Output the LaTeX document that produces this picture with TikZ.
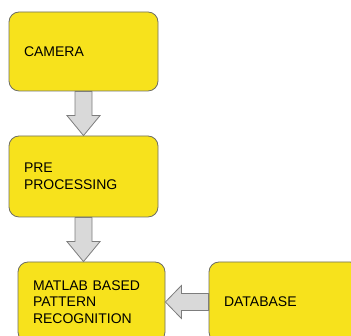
\documentclass[tikz,border=0pt]{standalone}
\usepackage{fontspec}
\setmainfont{Liberation Sans}
\usepackage{tikz}
\usetikzlibrary{calc}
\definecolor{boxyellow}{RGB}{247,226,28}
\definecolor{boxline}{RGB}{110,110,100}
\definecolor{arrowgray}{RGB}{217,217,217}
\definecolor{arrowline}{RGB}{125,125,125}

\newcommand{\blockdown}[2]{%
  \draw[blockarrow] let \p1=(#1.south), \p2=(#2.north) in
    (\x1-8.5pt,\y1) -- (\x1-8.5pt,\y2+20pt) -- (\x1-16.5pt,\y2+20pt) -- (\x1,\y2)
    -- (\x1+16.5pt,\y2+20pt) -- (\x1+8.5pt,\y2+20pt) -- (\x1+8.5pt,\y1) -- cycle;}
\newcommand{\blockleft}[2]{%
  \draw[blockarrow] let \p1=(#1.west), \p2=(#2.east) in
    (\x1,\y1+8.5pt) -- (\x2+16pt,\y1+8.5pt) -- (\x2+16pt,\y1+16.5pt) -- (\x2,\y1)
    -- (\x2+16pt,\y1-16.5pt) -- (\x2+16pt,\y1-8.5pt) -- (\x1,\y1-8.5pt) -- cycle;}

\begin{document}
\begin{tikzpicture}[x=1pt,y=1pt,
    box/.style={draw=boxline, line width=0.8pt, fill=boxyellow, rounded corners=10pt,
      inner xsep=15pt, align=left, font=\fontsize{14}{16.5}\selectfont},
    blockarrow/.style={draw=arrowline, line width=0.8pt, fill=arrowgray}]
  \clip (0,0) rectangle (351,336);
  \node[box, text width=119pt, minimum height=79pt] (cam) at (83.5,284.5) {CAMERA};
  \node[box, text width=119pt, minimum height=81pt] (pre) at (83.5,159.5) {PRE\\PROCESSING};
  \node[box, text width=117pt, minimum height=80pt] (mat) at (91.5,34) {MATLAB BASED\\PATTERN\\RECOGNITION};
  \node[box, text width=121pt, minimum height=80pt] (db) at (284.5,34) {DATABASE};
  \blockdown{cam}{pre}
  \blockdown{pre}{mat}
  \blockleft{db}{mat}
\end{tikzpicture}
\end{document}
